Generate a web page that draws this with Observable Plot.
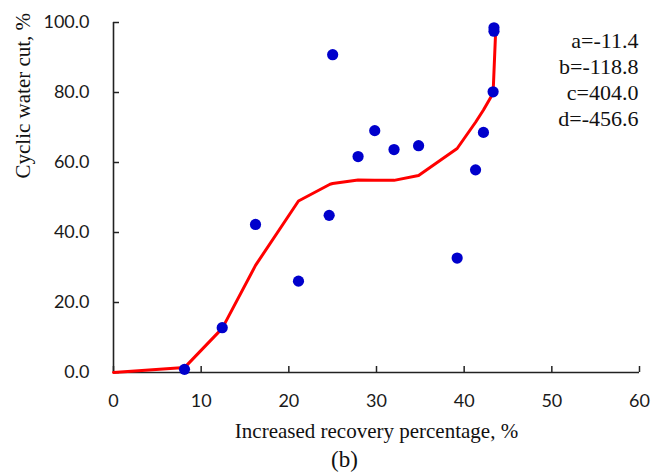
<!DOCTYPE html>
<html>
<head>
<meta charset="utf-8">
<script src="https://cdn.jsdelivr.net/npm/d3@7"></script>
<script src="https://cdn.jsdelivr.net/npm/@observablehq/plot@0.6"></script>
<style>
  html, body { margin: 0; padding: 0; background: white; }
</style>
</head>
<body>
<div id="chart"></div>
<script>
// Observed data points (increased recovery percentage %, cyclic water cut %)
const pointX = [8.1, 12.4, 16.2, 21.1, 24.6, 25.0, 27.9, 29.8, 32.0, 34.8, 39.2, 41.3, 42.2, 43.3, 43.4, 43.4];
const pointY = [0.9, 12.8, 42.3, 26.1, 44.9, 90.8, 61.7, 69.1, 63.7, 64.8, 32.7, 57.9, 68.6, 80.2, 97.5, 98.5];

// Fitted curve values
const fitX = [0, 8.1, 12.4, 16.2, 21.1, 24.7, 25.0, 27.9, 29.8, 32.0, 34.8, 39.2, 41.3, 42.2, 43.3, 43.6];
const fitY = [0, 1.4, 12.6, 30.6, 49.0, 53.8, 54.0, 55.0, 54.9, 54.9, 56.3, 64.0, 71.5, 75.0, 79.8, 98.0];

// Axis ticks
const xTicks = [0, 10, 20, 30, 40, 50, 60];
const yTicks = [0, 20, 40, 60, 80, 100];

// Texts
const params = ["a=-11.4", "b=-118.8", "c=404.0", "d=-456.6"];
const xTitle = "Increased recovery percentage, %";
const yTitle = "Cyclic water cut, %";
const panelLabel = "(b)";

const points = pointX.map((x, i) => ({x, y: pointY[i]}));
const fit = fitX.map((x, i) => ({x, y: fitY[i]}));

const W = 652, H = 473;
const mL = 113, mR = 13, mT = 22, mB = 101;
const xMax = 60, yMax = 100;
const pxPerX = (W - mL - mR) / xMax;
const pxPerY = (H - mT - mB) / yMax;
const axisColor = "#222";
const serif = "Liberation Serif, Times New Roman, serif";

const chart = Plot.plot({
  width: W,
  height: H,
  marginLeft: mL,
  marginRight: mR,
  marginTop: mT,
  marginBottom: mB,
  x: {domain: [0, xMax]},
  y: {domain: [0, yMax]},
  style: {fontFamily: "Lato, sans-serif", fontSize: "18px", color: "#1a1a1a", background: "white", overflow: "visible"},
  marks: [
    Plot.axisX({ticks: xTicks, tickSize: 0, tickPadding: 22, tickFormat: d => String(d), label: null}),
    Plot.axisY({ticks: yTicks, tickSize: 0, tickPadding: 24, tickFormat: d => d.toFixed(1), label: null}),
    // inward ticks
    Plot.ruleY(yTicks, {y: d => d, x1: 0, x2: 6 / pxPerX, stroke: axisColor, strokeWidth: 1.5}),
    Plot.ruleX(xTicks, {x: d => d, y1: 0, y2: 6 / pxPerY, stroke: axisColor, strokeWidth: 1.5}),
    // axis lines
    Plot.ruleX([0], {y1: 0, y2: yMax, stroke: axisColor, strokeWidth: 1.6}),
    Plot.ruleY([0], {x1: 0, x2: xMax, stroke: axisColor, strokeWidth: 1.6}),
    // fitted curve
    Plot.line(fit, {x: "x", y: "y", stroke: "#ff0000", strokeWidth: 3, strokeLinejoin: "round"}),
    // observed points
    Plot.dot(points, {x: "x", y: "y", r: 5.6, fill: "#0000cc", stroke: "none"}),
    // parameter annotation
    Plot.text([params.join("\n")], {
      frameAnchor: "top-right", text: d => d, textAnchor: "end", lineAnchor: "top",
      lineHeight: 26 / 22, dx: -1, dy: 7, fontFamily: serif, fontSize: 22, fill: "#111"
    }),
    // axis titles
    Plot.text([xTitle], {
      frameAnchor: "bottom", text: d => d, lineAnchor: "bottom", dy: 65,
      fontFamily: serif, fontSize: 21, fill: "#111"
    }),
    Plot.text([panelLabel], {
      frameAnchor: "bottom", text: d => d, lineAnchor: "bottom", dy: 94.5, dx: -32,
      fontFamily: serif, fontSize: 23, fill: "#111"
    }),
    Plot.text([yTitle], {
      frameAnchor: "left", text: d => d, lineAnchor: "bottom", rotate: -90, dx: -83.5, dy: -19,
      fontFamily: serif, fontSize: 21, fill: "#111"
    })
  ]
});

document.getElementById("chart").appendChild(chart);
</script>
</body>
</html>
